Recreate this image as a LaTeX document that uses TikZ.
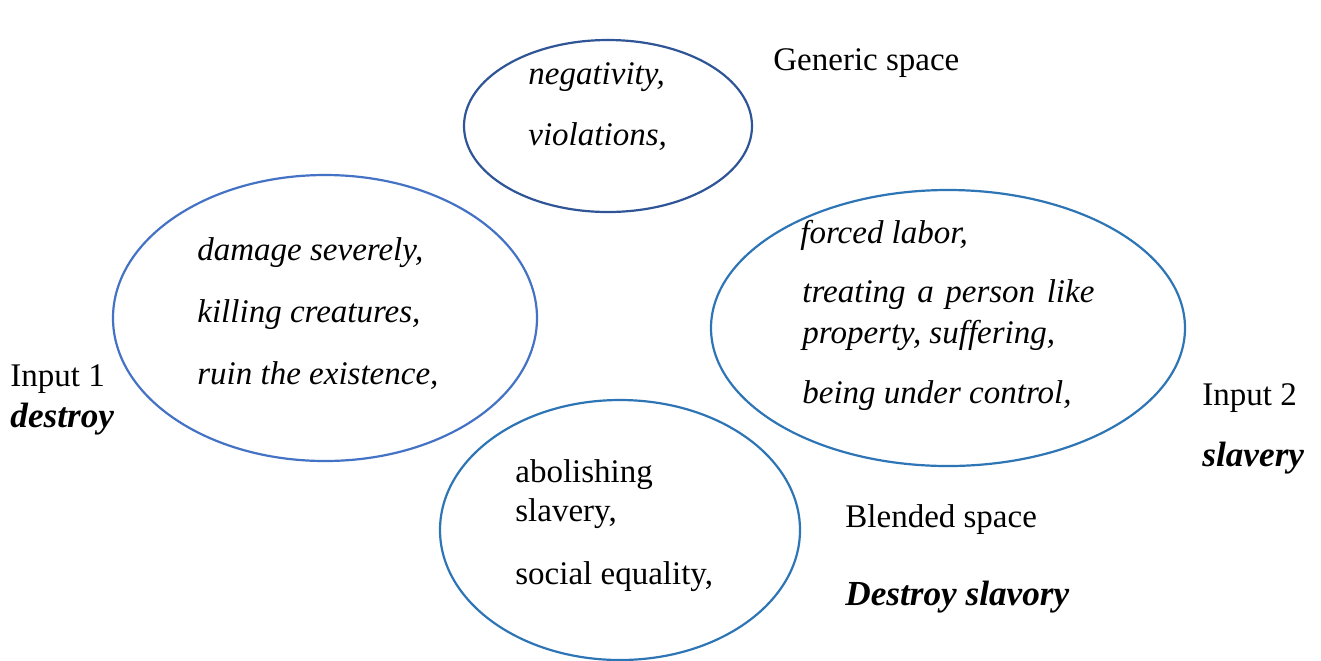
\documentclass[tikz,border=0pt]{standalone}
\usepackage{fontspec}
\setmainfont{Liberation Serif}
\usetikzlibrary{shapes.geometric}
\definecolor{genblue}{HTML}{2F5597}
\definecolor{inablue}{HTML}{4472C4}
\definecolor{inbblue}{HTML}{2E75B6}
\tikzset{
  oval/.style={ellipse, draw, line width=1.1pt, inner sep=0pt},
  txt/.style={anchor=base west, inner sep=0pt, font=\fontsize{16.5}{20}\selectfont},
  itxt/.style={txt, font=\fontsize{16.5}{20}\selectfont\itshape},
  btxt/.style={txt, font=\fontsize{17.6}{21}\selectfont\bfseries\itshape}
}
\begin{document}
\begin{tikzpicture}[x=0.5pt,y=-0.5pt]
\useasboundingbox[fill=white] (0,0) rectangle (1321,660);
% ellipses
\node[oval, draw=genblue, minimum width=144pt, minimum height=86pt] (gen) at (608,126) {};
\node[oval, draw=inablue, minimum width=212pt, minimum height=143pt] (ina) at (325,318) {};
\node[oval, draw=inbblue, minimum width=237pt, minimum height=138pt] (inb) at (948,328) {};
\node[oval, draw=inbblue, minimum width=180pt, minimum height=130pt] (bl) at (620,530) {};
% generic space
\node[itxt] (g1) at (528,84) {negativity,};
\node[itxt] (g2) at (528,145) {violations,};
\node[txt] (glab) at (773,70) {Generic space};
% input 1
\node[itxt] (a1) at (197,260) {damage severely,};
\node[itxt] (a2) at (197,322) {killing creatures,};
\node[itxt] (a3) at (197,384) {ruin the existence,};
\node[txt] (alab) at (10,386) {Input 1};
\node[btxt] (aname) at (10,427) {destroy};
% input 2
\node[itxt] (b1) at (800,243) {forced labor,};
\node[itxt] (b2) at (802,302) {\makebox[146pt][s]{treating a person like}};
\node[itxt] (b3) at (802,343) {property, suffering,};
\node[itxt] (b4) at (802,403) {being under control,};
\node[txt] (blab) at (1202,405) {Input 2};
\node[btxt] (bname) at (1202,466) {slavery};
% blended
\node[txt] (c1) at (515,482) {abolishing};
\node[txt] (c2) at (515,521) {slavery,};
\node[txt] (c3) at (515,584) {social equality,};
\node[txt] (clab) at (845,527) {Blended space};
\node[btxt] (cname) at (845,605) {Destroy slavory};
\end{tikzpicture}
\end{document}
